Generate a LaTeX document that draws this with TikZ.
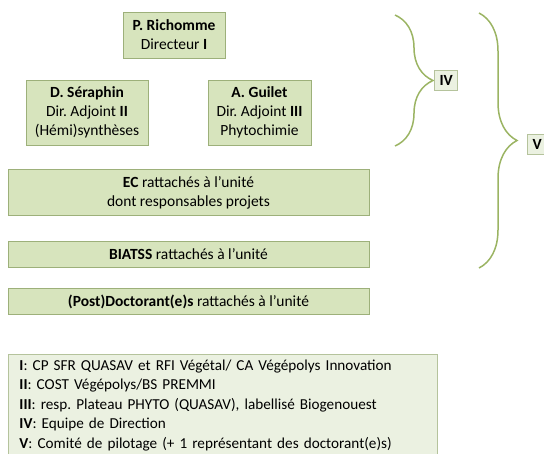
\documentclass[tikz,border=0pt]{standalone}
\usepackage{fontspec}
\setmainfont{Carlito}
\usetikzlibrary{decorations.pathreplacing}
\definecolor{boxfill}{HTML}{D7E4BD}
\definecolor{boxline}{HTML}{9DB07A}
\definecolor{notefill}{HTML}{EBF1E1}
\definecolor{noteline}{HTML}{B5C39C}
\definecolor{braceline}{HTML}{9BB463}

\begin{document}
\frenchspacing
\begin{tikzpicture}[x=1pt,y=-1pt,font=\fontsize{15.5}{19}\selectfont,
    box/.style={draw=boxline,fill=boxfill,line width=1pt,align=center,inner sep=0pt},
    tag/.style={draw=noteline,fill=notefill,line width=1pt,inner sep=5pt,font=\fontsize{15.5}{19}\selectfont\bfseries},
    curly/.style={draw=braceline,line width=1.5pt,decorate,decoration={brace,amplitude=38pt}}]

    \clip (0,0) rectangle (544,453);

    \node (dir) [box,minimum width=102pt,minimum height=46pt] at (174,35) {\textbf{P. Richomme}\\Directeur \textbf{I}};
    \node (sera) [box,minimum width=122pt,minimum height=65pt] at (87,112.5) {\textbf{D. Séraphin}\\Dir. Adjoint \textbf{II}\\(Hémi)synthèses};
    \node (guil) [box,minimum width=103pt,minimum height=65pt] at (259.5,112.5) {\textbf{A. Guilet}\\Dir. Adjoint \textbf{III}\\Phytochimie};
    \node (ec) [box,minimum width=361pt,minimum height=46pt] at (188.5,192.5) {\textbf{EC} rattachés à l’unité\\dont responsables projets};
    \node (biat) [box,minimum width=361pt,minimum height=26pt] at (188.5,254) {\textbf{BIATSS} rattachés à l’unité};
    \node (doct) [box,minimum width=361pt,minimum height=26pt] at (188.5,301.5) {\textbf{(Post)Doctorant(e)s} rattachés à l’unité};

    % accolades
    \coordinate (ivtop) at (395,15);
    \coordinate (ivbot) at (395,146);
    \coordinate (vtop) at (479,13);
    \coordinate (vbot) at (479,268);
    \draw[curly] (ivtop) -- (ivbot);
    \draw[curly] (vtop) -- (vbot);
    \node (iv) [tag,anchor=west] at (434,80.5) {IV};
    \node (v) [tag,anchor=west] at (527,144.5) {V};

    % legende
    \node (key) [draw=noteline,fill=notefill,line width=1pt,anchor=north west,align=left,
        text width=407pt,inner xsep=11pt,inner ysep=5pt,font=\fontsize{15.2}{19.5}\selectfont] at (8,354)
        {\textbf{I}: CP SFR QUASAV et RFI Végétal/ CA Végépolys Innovation\\
         \textbf{II}: COST Végépolys/BS PREMMI\\
         \textbf{III}: resp. Plateau PHYTO (QUASAV), labellisé Biogenouest\\
         \textbf{IV}: Equipe de Direction\\
         \textbf{V}: Comité de pilotage (+ 1 représentant des doctorant(e)s)};

\end{tikzpicture}
\end{document}
